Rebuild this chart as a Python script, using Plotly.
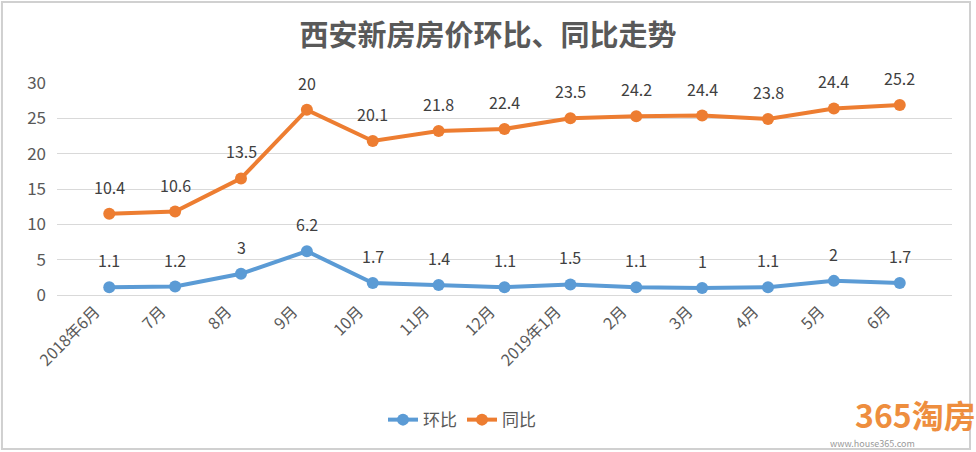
import plotly.graph_objects as go

# months on the x axis
months = ['2018年6月', '7月', '8月', '9月', '10月', '11月', '12月',
          '2019年1月', '2月', '3月', '4月', '5月', '6月']

# month-on-month and year-on-year change (%)
huanbi = [1.1, 1.2, 3, 6.2, 1.7, 1.4, 1.1, 1.5, 1.1, 1, 1.1, 2, 1.7]
tongbi = [10.4, 10.6, 13.5, 20, 20.1, 21.8, 22.4, 23.5, 24.2, 24.4, 23.8, 24.4, 25.2]

blue = '#5B9BD5'
orange = '#ED7D31'
font_cn = 'Noto Sans CJK SC'

fig = go.Figure()

# the original is an Excel stacked line chart, so 同比 sits on top of 环比
fig.add_trace(go.Scatter(
    x=months, y=huanbi, name='环比', stackgroup='one', fill='none',
    mode='lines+markers', line=dict(color=blue, width=4),
    marker=dict(size=12, color=blue)
))
fig.add_trace(go.Scatter(
    x=months, y=tongbi, name='同比', stackgroup='one', fill='none',
    mode='lines+markers', line=dict(color=orange, width=4),
    marker=dict(size=12, color=orange)
))

# data labels show the raw values, placed above the stacked points
for i, m in enumerate(months):
    fig.add_annotation(x=m, y=huanbi[i], text=f'{huanbi[i]:g}', showarrow=False,
                       yshift=27, font=dict(size=16, color='#404040'))
    fig.add_annotation(x=m, y=huanbi[i] + tongbi[i], text=f'{tongbi[i]:g}', showarrow=False,
                       yshift=27, font=dict(size=16, color='#404040'))

fig.update_layout(
    width=976, height=452,
    margin=dict(l=57, r=24, t=83, b=157),
    paper_bgcolor='white', plot_bgcolor='white',
    font=dict(family=font_cn, color='#595959'),
    title=dict(text='<b>西安新房房价环比、同比走势</b>', x=0.5, xanchor='center',
               y=0.92, yanchor='middle', font=dict(size=29, color='#595959')),
    showlegend=True,
    legend=dict(orientation='h', x=0.4525, xanchor='center', y=-0.59, yanchor='middle',
                font=dict(size=17, color='#595959')),
    xaxis=dict(tickangle=-45, tickfont=dict(size=16, color='#595959'),
               showgrid=False, showline=True, linecolor='#D9D9D9', linewidth=1,
               ticks='', automargin=False, ticklabelshift=-14),
    yaxis=dict(range=[0, 30], dtick=5, tickfont=dict(size=17, color='#595959'),
               gridcolor='#D9D9D9', gridwidth=1, zeroline=False, ticks='',
               ticklabelstandoff=10, automargin=False),
)

# outer border of the chart area
fig.add_shape(type='rect', xref='paper', yref='paper',
              x0=-0.0615, x1=1.0201, y0=-0.726, y1=1.382,
              line=dict(color='#D0D0D0', width=2), fillcolor='rgba(0,0,0,0)')

# watermark
fig.add_annotation(text='<b>365淘房</b>', xref='paper', yref='paper',
                   x=1.029, y=-0.56, xanchor='right', yanchor='middle', showarrow=False,
                   font=dict(family=font_cn, size=32, color='#EE8E3E'))
fig.add_annotation(text='www.house365.com', xref='paper', yref='paper',
                   x=0.8615, y=-0.70, xanchor='left', yanchor='middle', showarrow=False,
                   font=dict(size=9, color='#999999'))

fig.write_html('out.html', post_script="document.body.style.margin='0';",
               config={'displayModeBar': False})
